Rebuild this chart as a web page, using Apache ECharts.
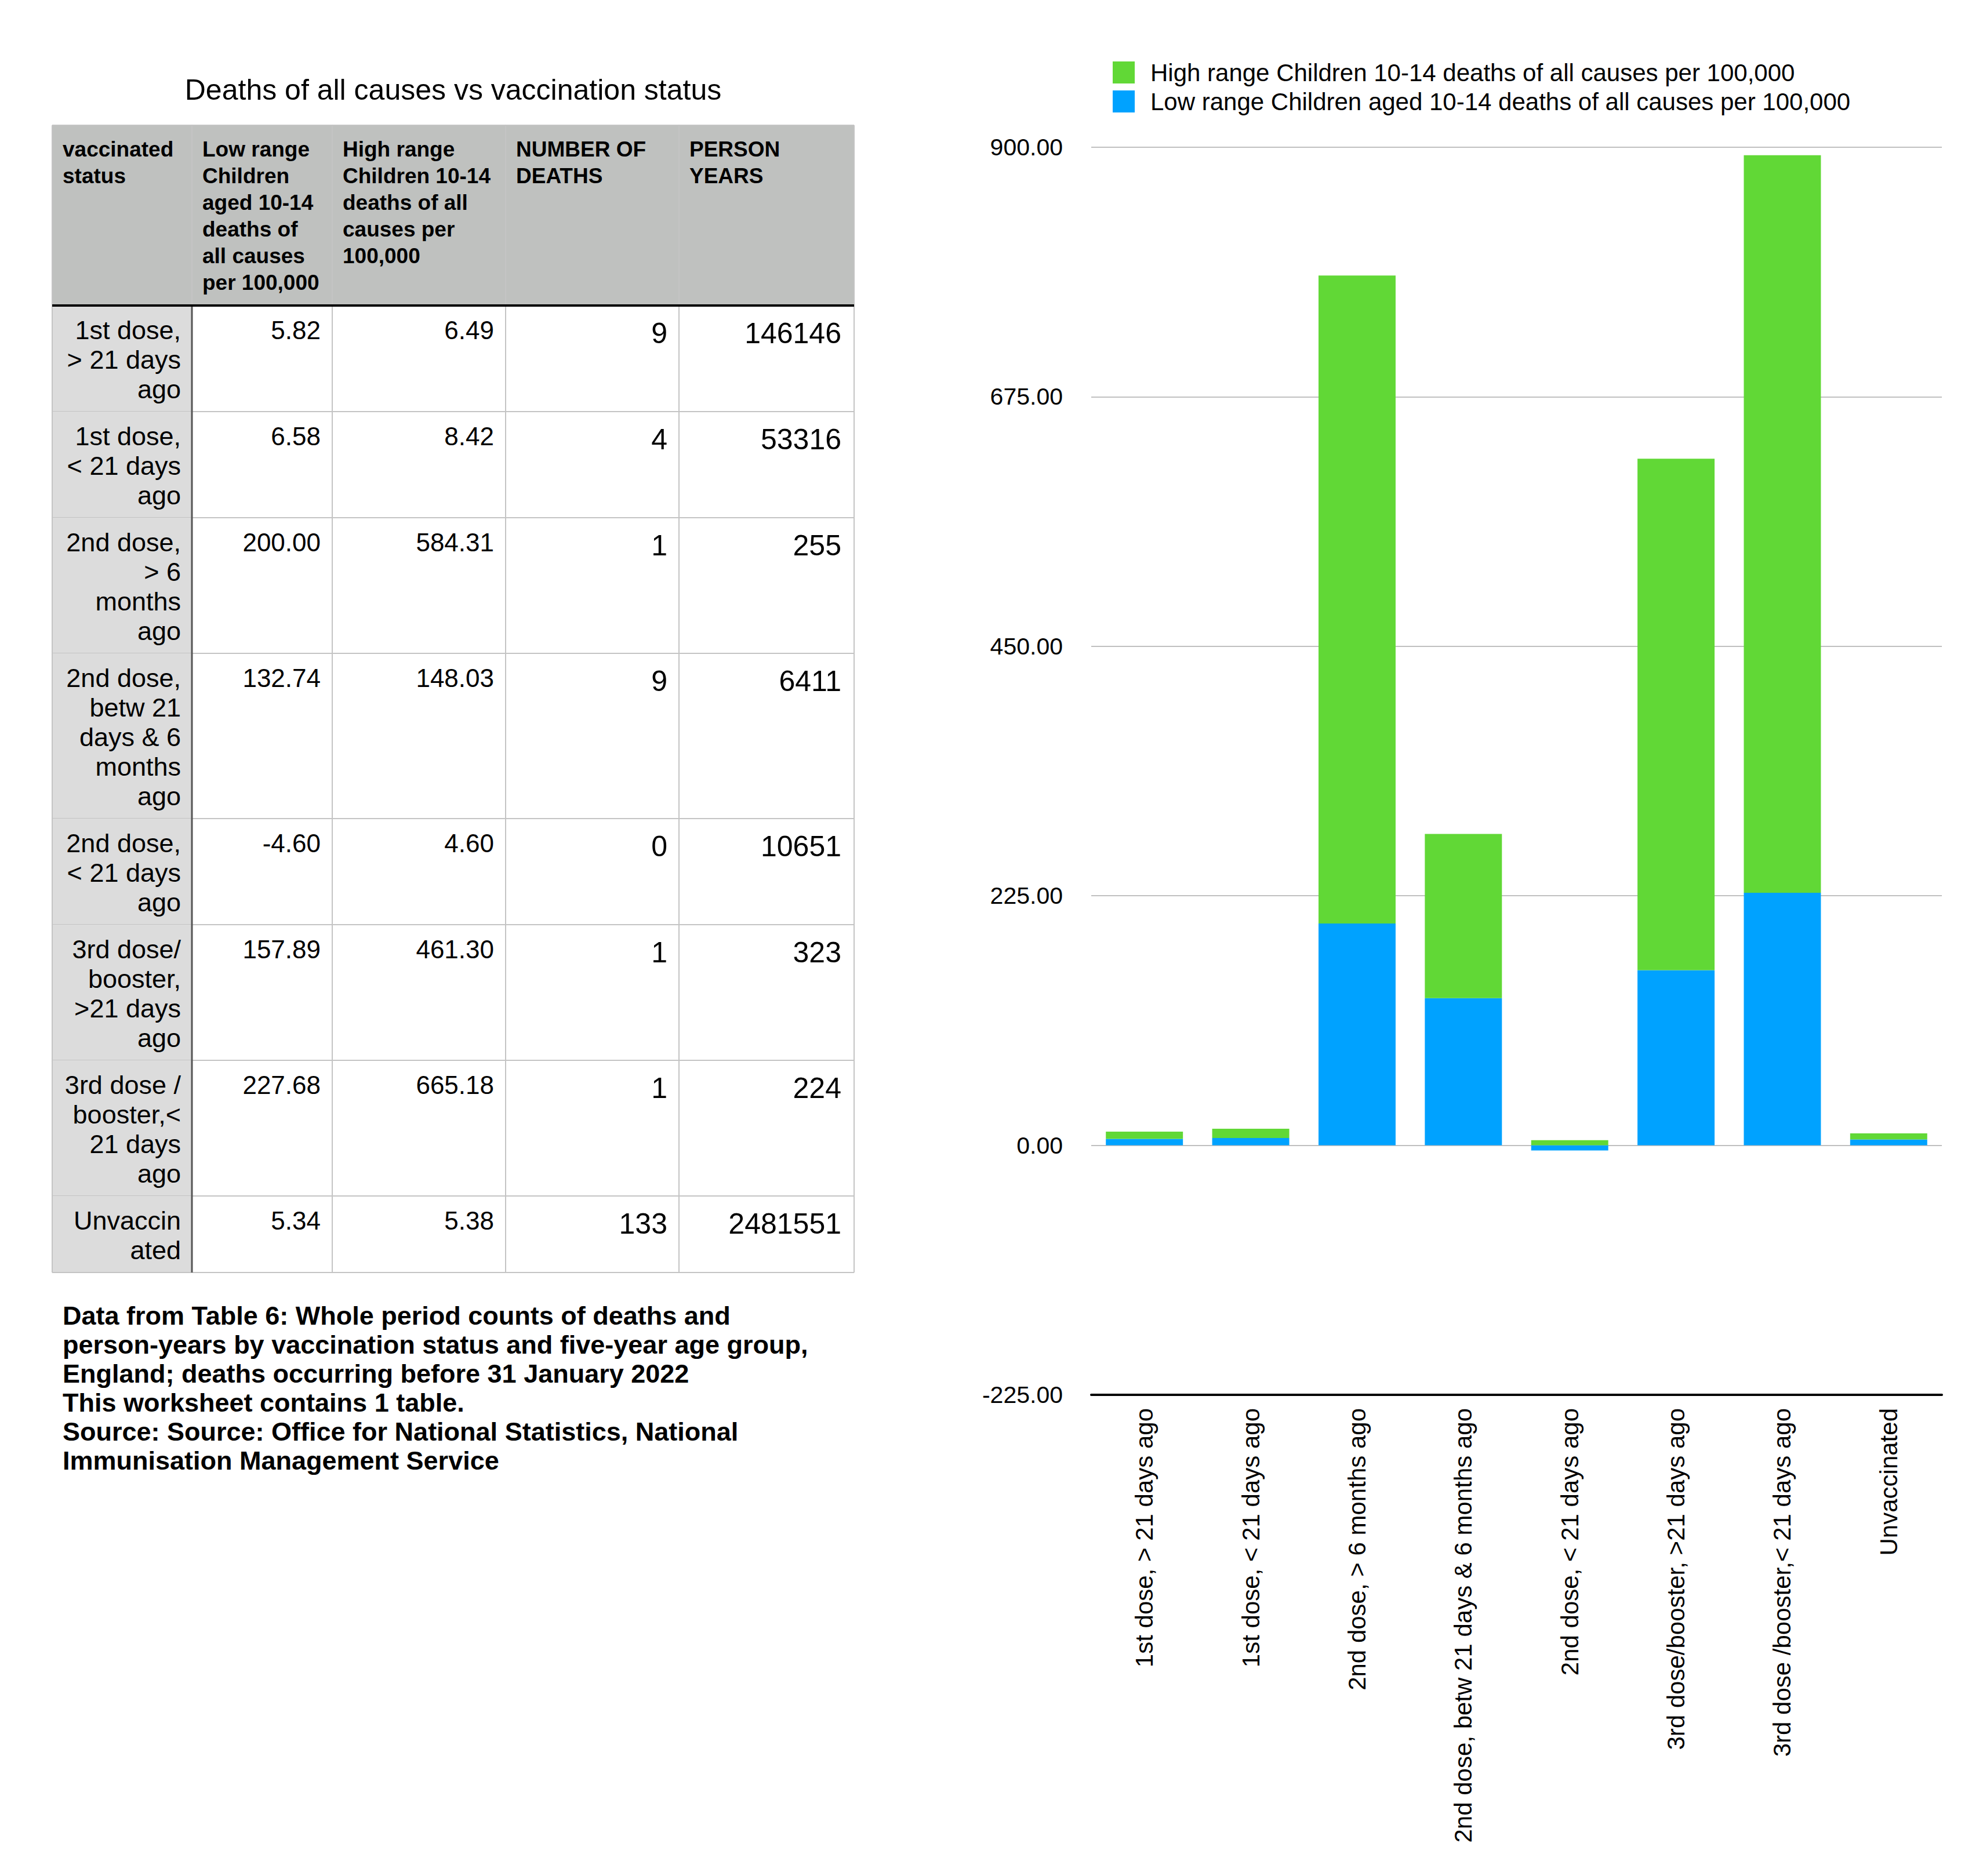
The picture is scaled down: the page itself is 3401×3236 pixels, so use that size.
<!DOCTYPE html>
<html>
<head>
<meta charset="utf-8">
<script src="https://cdn.jsdelivr.net/npm/echarts@6/dist/echarts.min.js"></script>
<style>
html,body{margin:0;padding:0;background:#fff;}
#main{width:3401px;height:3236px;}
</style>
</head>
<body>
<div id="main"></div>
<script>
// ---- data ----
const categories = ['1st dose, > 21 days ago', '1st dose, < 21 days ago', '2nd dose, > 6 months ago', '2nd dose, betw 21 days & 6 months ago', '2nd dose, < 21 days ago', '3rd dose/booster, >21 days ago', '3rd dose /booster,< 21 days ago', 'Unvaccinated'];
const lowRange = [5.82, 6.58, 200.00, 132.74, -4.60, 157.89, 227.68, 5.34];
const highRange = [6.49, 8.42, 584.31, 148.03, 4.60, 461.30, 665.18, 5.38];
const deaths = [9, 4, 1, 9, 0, 1, 1, 133];
const personYears = [146146, 53316, 255, 6411, 10651, 323, 224, 2481551];
const tableRowLabels = ['1st dose,\n> 21 days\nago', '1st dose,\n< 21 days\nago', '2nd dose,\n> 6\nmonths\nago', '2nd dose,\nbetw 21\ndays & 6\nmonths\nago', '2nd dose,\n< 21 days\nago', '3rd dose/\nbooster,\n>21 days\nago', '3rd dose /\nbooster,<\n21 days\nago', 'Unvaccin\nated'];
const tableHeaders = ['vaccinated\nstatus', 'Low range\nChildren\naged 10-14\ndeaths of\nall causes\nper 100,000', 'High range\nChildren 10-14\ndeaths of all\ncauses per\n100,000', 'NUMBER OF\nDEATHS', 'PERSON\nYEARS'];
const yTicks = [-225, 0, 225, 450, 675, 900];
const seriesHigh = 'High range Children 10-14 deaths of all causes per 100,000';
const seriesLow = 'Low range Children aged 10-14 deaths of all causes per 100,000';
const tableTitle = 'Deaths of all causes vs vaccination status';
const footerText = 'Data from Table 6: Whole period counts of deaths and\nperson-years by vaccination status and five-year age group,\nEngland; deaths occurring before 31 January 2022\nThis worksheet contains 1 table.\nSource: Source: Office for National Statistics, National\nImmunisation Management Service';

// ---- layout / style ----
const FF = '"Liberation Sans", Arial, Helvetica, sans-serif';
const colX = [90, 331, 573, 872, 1171, 1473];
const headerTop = 216;
const headerLH = 46;
const rowLH = 51;
const headerLines = Math.max(...tableHeaders.map(h => h.split('\n').length));
const headerH = headerLines * headerLH + 35;
const gridC = '#c4c4c4';

const g = [];
// title
g.push({type:'text', x:(colX[0]+colX[5])/2, y:155, style:{text:tableTitle, font:'50px '+FF, fill:'#000', align:'center', verticalAlign:'middle'}});
// header background
g.push({type:'rect', shape:{x:colX[0], y:headerTop, width:colX[5]-colX[0], height:headerH}, style:{fill:'#bfc1bf'}});
tableHeaders.forEach((h,i)=>{
  g.push({type:'text', x:colX[i]+18, y:headerTop+18, style:{text:h, font:'bold 37px '+FF, fill:'#000', align:'left', verticalAlign:'top', lineHeight:headerLH}});
});
// rows
let y = headerTop + headerH;
tableRowLabels.forEach((lab,r)=>{
  const n = lab.split('\n').length;
  const h = 30 + rowLH*n;
  g.push({type:'rect', shape:{x:colX[0], y:y, width:colX[1]-colX[0], height:h}, style:{fill:'#dcdcdc'}});
  g.push({type:'text', x:colX[1]-19, y:y+17, style:{text:lab, font:'45px '+FF, fill:'#000', align:'right', verticalAlign:'top', lineHeight:rowLH}});
  g.push({type:'text', x:colX[2]-20, y:y+17, style:{text:lowRange[r].toFixed(2), font:'44px '+FF, fill:'#000', align:'right', verticalAlign:'top', lineHeight:rowLH}});
  g.push({type:'text', x:colX[3]-20, y:y+17, style:{text:highRange[r].toFixed(2), font:'44px '+FF, fill:'#000', align:'right', verticalAlign:'top', lineHeight:rowLH}});
  g.push({type:'text', x:colX[4]-20, y:y+22, style:{text:String(deaths[r]), font:'50px '+FF, fill:'#000', align:'right', verticalAlign:'top', lineHeight:rowLH}});
  g.push({type:'text', x:colX[5]-22, y:y+22, style:{text:String(personYears[r]), font:'50px '+FF, fill:'#000', align:'right', verticalAlign:'top', lineHeight:rowLH}});
  y += h;
  g.push({type:'line', shape:{x1:colX[0], y1:y, x2:colX[5], y2:y}, style:{stroke:gridC, lineWidth:2}});
});
const tableBottom = y;
const bodyTop = headerTop + headerH;
// vertical lines
colX.forEach((cx,i)=>{
  if (i===1) return;
  g.push({type:'line', shape:{x1:cx, y1:headerTop, x2:cx, y2:tableBottom}, style:{stroke:gridC, lineWidth:2}});
});
g.push({type:'line', shape:{x1:colX[1], y1:headerTop, x2:colX[1], y2:bodyTop}, style:{stroke:gridC, lineWidth:2}});
g.push({type:'line', shape:{x1:colX[1], y1:bodyTop, x2:colX[1], y2:tableBottom}, style:{stroke:'#555', lineWidth:3}});
g.push({type:'line', shape:{x1:colX[0], y1:headerTop, x2:colX[5], y2:headerTop}, style:{stroke:gridC, lineWidth:2}});
g.push({type:'line', shape:{x1:colX[0], y1:bodyTop, x2:colX[5], y2:bodyTop}, style:{stroke:'#000', lineWidth:4}});
// footer
g.push({type:'text', x:108, y:tableBottom+49, style:{text:footerText, font:'bold 45px '+FF, fill:'#000', align:'left', verticalAlign:'top', lineHeight:50}});

const chart = echarts.init(document.getElementById('main'), null, {renderer:'svg'});
chart.setOption({
  animation:false,
  backgroundColor:'#fff',
  textStyle:{fontFamily:FF},
  legend:{
    orient:'vertical', left:1919, top:104, padding:0,
    itemWidth:38, itemHeight:38, itemGap:8, icon:'rect',
    data:[seriesHigh, seriesLow],
    textStyle:{fontSize:42, color:'#000', fontFamily:FF, padding:[0,0,0,22]}
  },
  grid:{left:1882, right:52, top:254, bottom:830, containLabel:false},
  xAxis:{
    type:'category', data:categories,
    axisLine:{onZero:false, lineStyle:{color:'#000', width:4}},
    axisTick:{show:false},
    axisLabel:{rotate:90, margin:23, fontSize:42, color:'#000', fontFamily:FF, interval:0}
  },
  yAxis:{
    type:'value', min:yTicks[0], max:yTicks[yTicks.length-1], interval:225,
    axisLine:{show:false}, axisTick:{show:false},
    axisLabel:{margin:49, fontSize:41, color:'#000', fontFamily:FF, formatter:v=>v.toFixed(2)},
    splitLine:{lineStyle:{color:'#c0c0c0', width:2}}
  },
  series:[
    {name:seriesLow, type:'bar', stack:'total', data:lowRange, barWidth:'72.5%', itemStyle:{color:'#00A2FF'}},
    {name:seriesHigh, type:'bar', stack:'total', data:highRange, barWidth:'72.5%', itemStyle:{color:'#61D836'}}
  ],
  graphic:{elements:g}
});
</script>
</body>
</html>
